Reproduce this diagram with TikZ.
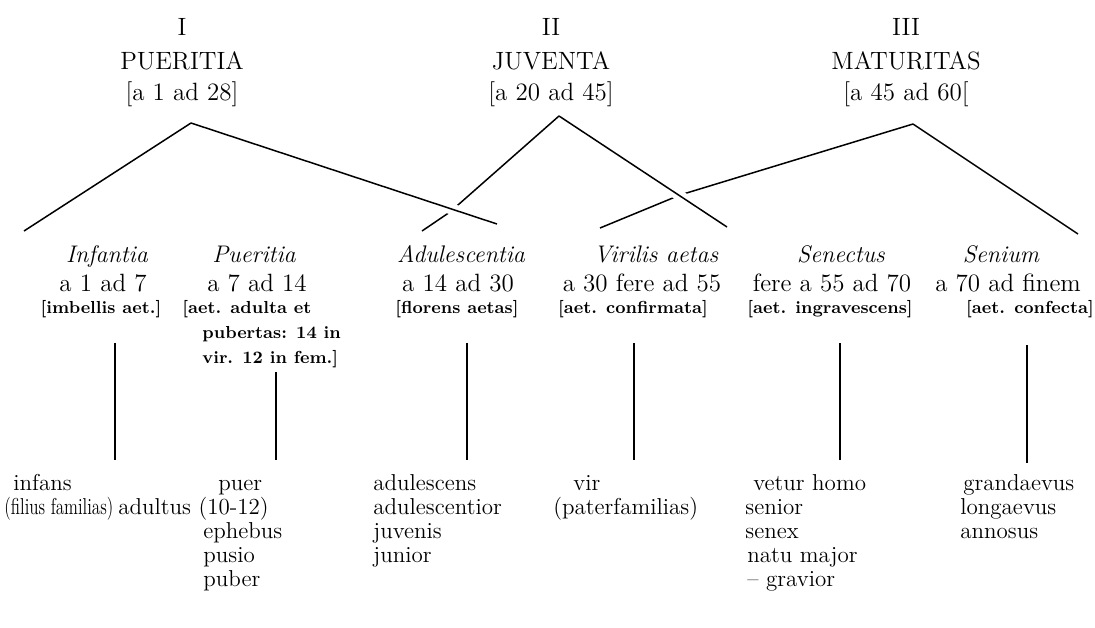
\documentclass[tikz,border=0pt]{standalone}
\begin{document}
\begin{tikzpicture}[x=0.5pt,y=-0.5pt,
  hd/.style={font=\fontsize{12.5}{15}\selectfont, anchor=base, inner sep=0pt},
  ti/.style={font=\fontsize{12}{14}\selectfont\itshape, anchor=base, inner sep=0pt},
  rg/.style={font=\fontsize{12.5}{14}\selectfont, anchor=base, inner sep=0pt},
  nt/.style={font=\fontsize{8.7}{12}\selectfont\bfseries, anchor=base, inner sep=0pt},
  ntl/.style={nt, anchor=base west},
  it/.style={font=\fontsize{11.5}{12}\selectfont, anchor=base west, inner sep=0pt},
  ln/.style={line width=0.75pt},
  vl/.style={line width=0.6pt},
  over/.style={preaction={draw=white, line width=5.5pt}}]
\useasboundingbox (0,0) rectangle (1095,627);

% headers
\node[hd] (h1a) at (182,35) {I};
\node[hd] (h1)  at (182,69) {PUERITIA};
\node[hd] (h1b) at (182,100) {[a 1 ad 28]};
\node[hd] (h2a) at (551,35) {II};
\node[hd] (h2)  at (551,69) {JUVENTA};
\node[hd] (h2b) at (551,100) {[a 20 ad 45]};
\node[hd] (h3a) at (906,35) {III};
\node[hd] (h3)  at (906,69) {MATURITAS};
\node[hd] (h3b) at (906,100) {[a 45 ad 60[};

% connector points
\coordinate (pA) at (191,123);
\coordinate (pL) at (24,231);
\coordinate (pR) at (497,224);
\coordinate (jA) at (559,116);
\coordinate (jM) at (450,212);
\coordinate (jL) at (422,231);
\coordinate (jR) at (727,227);
\coordinate (mA) at (913,124);
\coordinate (mM) at (680,195);
\coordinate (mL) at (600,228);
\coordinate (mR) at (1078,234);

\draw[ln] (mA) -- (mM) -- (mL);
\draw[ln, over] (jA) -- (jR);
\draw[ln] (jA) -- (jM) -- (jL);
\draw[ln, over] (pA) -- (pR);
\draw[ln] (pA) -- (pL);
\draw[ln] (mA) -- (mR);

% middle row
\node[ti] (infT) at (107,262) {Infantia};
\node[rg] (infR) at (103,291) {a 1 ad 7};
\node[nt] (infN) at (101,313) {[imbellis aet.]};

\node[ti] (purT) at (254,262) {Pueritia};
\node[rg] (purR) at (257,291) {a 7 ad 14};
\node[ntl] (purN1) at (182,313) {[aet. adulta et};
\node[ntl] (purN2) at (202,338) {pubertas: 14 in};
\node[ntl] (purN3) at (202,363) {vir. 12 in fem.]};

\node[ti] (adT) at (461,262) {Adulescentia};
\node[rg] (adR) at (458,291) {a 14 ad 30};
\node[nt] (adN) at (457,313) {[florens aetas]};

\node[ti] (viT) at (656,262) {Virilis aetas};
\node[rg] (viR) at (642,291) {a 30 fere ad 55};
\node[nt] (viN) at (633,313) {[aet. confirmata]};

\node[ti] (seT) at (841,262) {Senectus};
\node[rg] (seR) at (832,291) {fere a 55 ad 70};
\node[nt] (seN) at (830,313) {[aet. ingravescens]};

\node[ti] (smT) at (1001,262) {Senium};
\node[rg] (smR) at (1008,291) {a 70 ad finem};
\node[nt] (smN) at (1030,313) {[aet. confecta]};

% vertical connectors
\coordinate (v1t) at (115,343); \coordinate (v1b) at (115,460);
\coordinate (v2t) at (276,372); \coordinate (v2b) at (276,460);
\coordinate (v3t) at (467,343); \coordinate (v3b) at (467,460);
\coordinate (v4t) at (634,343); \coordinate (v4b) at (634,460);
\coordinate (v5t) at (840,343); \coordinate (v5b) at (840,460);
\coordinate (v6t) at (1027,345); \coordinate (v6b) at (1027,463);
\foreach \i in {1,...,6} \draw[vl] (v\i t) -- (v\i b);

% lists
\node[it] (l1a) at (13,490) {infans};
\node[it] (l1b) at (4,514) {\scalebox{0.74}[1]{(filius familias)}};

\node[it] (l2a) at (218,490) {puer};
\node[it] (l2b) at (118,514) {adultus (10-12)};
\node[it] (l2c) at (203,538) {ephebus};
\node[it] (l2d) at (203,562) {pusio};
\node[it] (l2e) at (203,586) {puber};

\node[it] (l3a) at (373,490) {adulescens};
\node[it] (l3b) at (373,514) {adulescentior};
\node[it] (l3c) at (373,538) {juvenis};
\node[it] (l3d) at (373,562) {junior};

\node[it] (l4a) at (573,490) {vir};
\node[it] (l4b) at (553,514) {(paterfamilias)};

\node[it] (l5a) at (753,490) {vetur homo};
\node[it] (l5b) at (745,514) {senior};
\node[it] (l5c) at (745,538) {senex};
\node[it] (l5d) at (747,562) {natu major};
\node[it] (l5e) at (747,586) {-- gravior};

\node[it] (l6a) at (963,490) {grandaevus};
\node[it] (l6b) at (960,514) {longaevus};
\node[it] (l6c) at (960,538) {annosus};
\end{tikzpicture}
\end{document}
